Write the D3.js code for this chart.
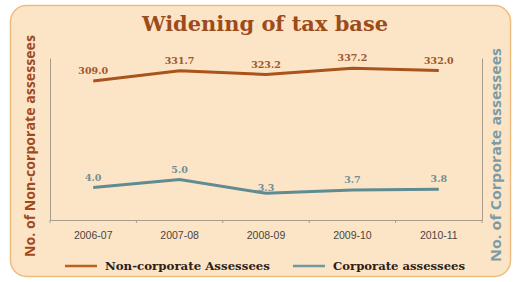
<!DOCTYPE html>
<html><head><meta charset="utf-8">
<script src="https://cdn.jsdelivr.net/npm/d3@7"></script>
<style>body{margin:0;background:#fff;}svg{display:block;}</style>
</head><body>
<script>
const categories = ["2006-07","2007-08","2008-09","2009-10","2010-11"];
const nonCorporate = [309.0, 331.7, 323.2, 337.2, 332.0];
const corporate = [4.0, 5.0, 3.3, 3.7, 3.8];
const seriesNames = ["Non-corporate Assessees","Corporate assessees"];

const W = 513, H = 282;
const svg = d3.select("body").append("svg").attr("width", W).attr("height", H);

// panel
svg.append("rect").attr("x", 10.5).attr("y", 5.5).attr("width", 500).attr("height", 271)
  .attr("rx", 16).attr("fill", "#fce5c6").attr("stroke", "#eebc7e").attr("stroke-width", 1.5);

const m = {left: 50, right: 482, top: 58, bottom: 220};
const x = d3.scaleBand().domain(categories).range([m.left, m.right]).paddingInner(0).paddingOuter(0);
const yL = d3.scaleLinear().domain([0, 360]).range([m.bottom, m.top]);
const yR = d3.scaleLinear().domain([0, 20]).range([m.bottom, m.top]);

// title
svg.append("text").attr("x", 265).attr("y", 31).attr("text-anchor", "middle")
  .attr("font-family", "DejaVu Serif").attr("font-weight", "bold").attr("font-size", 21)
  .attr("textLength", 246).attr("lengthAdjust", "spacingAndGlyphs")
  .attr("fill", "#9c4c1c").text("Widening of tax base");

// axes
const axisColor = "#a89c8c";
const xAxis = svg.append("g").attr("transform", `translate(0,${m.bottom})`)
  .call(d3.axisBottom(x).tickSize(0).tickPadding(12));
xAxis.select(".domain").attr("stroke", axisColor);
xAxis.selectAll("text").attr("font-family", "Liberation Sans").attr("font-size", 10.5).attr("fill", "#4a4440");
const bounds = categories.map(c => x(c)).concat([m.right]);
svg.append("g").selectAll("line").data(bounds).join("line")
  .attr("x1", d => d).attr("x2", d => d).attr("y1", m.bottom).attr("y2", m.bottom + 3)
  .attr("stroke", axisColor);

const lAxis = svg.append("g").attr("transform", `translate(${m.left},0)`)
  .call(d3.axisLeft(yL).tickValues([]).tickSize(0));
lAxis.select(".domain").attr("stroke", axisColor);
const rAxis = svg.append("g").attr("transform", `translate(${m.right},0)`)
  .call(d3.axisRight(yR).tickValues([]).tickSize(0));
rAxis.select(".domain").attr("stroke", axisColor);

// axis titles
svg.append("text").attr("transform", `translate(35,146) rotate(-90)`).attr("text-anchor", "middle")
  .attr("font-family", "Open Sans").attr("font-weight", "bold").attr("font-size", 13.5)
  .attr("textLength", 222).attr("lengthAdjust", "spacingAndGlyphs")
  .attr("fill", "#a04a1e").text("No. of Non-corporate assessees");
svg.append("text").attr("transform", `translate(501,155) rotate(-90)`).attr("text-anchor", "middle")
  .attr("font-family", "Open Sans").attr("font-weight", "bold").attr("font-size", 13.5)
  .attr("textLength", 214).attr("lengthAdjust", "spacingAndGlyphs")
  .attr("fill", "#7b9ca6").text("No. of Corporate assessees");

const cx = c => x(c) + x.bandwidth() / 2;
const nonColor = "#a8541c", corpColor = "#5f8b92";

const lineL = d3.line().x((d, i) => cx(categories[i])).y(d => yL(d));
const lineR = d3.line().x((d, i) => cx(categories[i])).y(d => yR(d));
svg.append("path").datum(nonCorporate).attr("d", lineL).attr("fill", "none")
  .attr("stroke", nonColor).attr("stroke-width", 3);
svg.append("path").datum(corporate).attr("d", lineR).attr("fill", "none")
  .attr("stroke", corpColor).attr("stroke-width", 3);

// data labels
svg.append("g").selectAll("text").data(nonCorporate).join("text")
  .attr("x", (d, i) => cx(categories[i])).attr("y", d => yL(d) - 7).attr("text-anchor", "middle")
  .attr("font-family", "DejaVu Serif").attr("font-weight", "bold").attr("font-size", 9.5)
  .attr("fill", "#a0542a").text(d => d.toFixed(1));
svg.append("g").selectAll("text").data(corporate).join("text")
  .attr("x", (d, i) => cx(categories[i])).attr("y", (d, i) => yR(d) - (i === 2 ? 2 : 7)).attr("text-anchor", "middle")
  .attr("font-family", "DejaVu Serif").attr("font-weight", "bold").attr("font-size", 9.5)
  .attr("fill", "#6f9098").text(d => d.toFixed(1));

// legend
const legend = svg.append("g");
const items = [{name: seriesNames[0], color: "#b8621f", x: 65, len: 165}, {name: seriesNames[1], color: "#6f98a0", x: 293, len: 132}];
items.forEach(it => {
  legend.append("line").attr("x1", it.x).attr("x2", it.x + 32).attr("y1", 266).attr("y2", 266)
    .attr("stroke", it.color).attr("stroke-width", 2.5);
  legend.append("text").attr("x", it.x + 40).attr("y", 270)
    .attr("font-family", "DejaVu Serif").attr("font-weight", "bold").attr("font-size", 11.5)
    .attr("textLength", it.len).attr("lengthAdjust", "spacingAndGlyphs")
    .attr("fill", "#2e2016").text(it.name);
});
</script>
</body></html>
